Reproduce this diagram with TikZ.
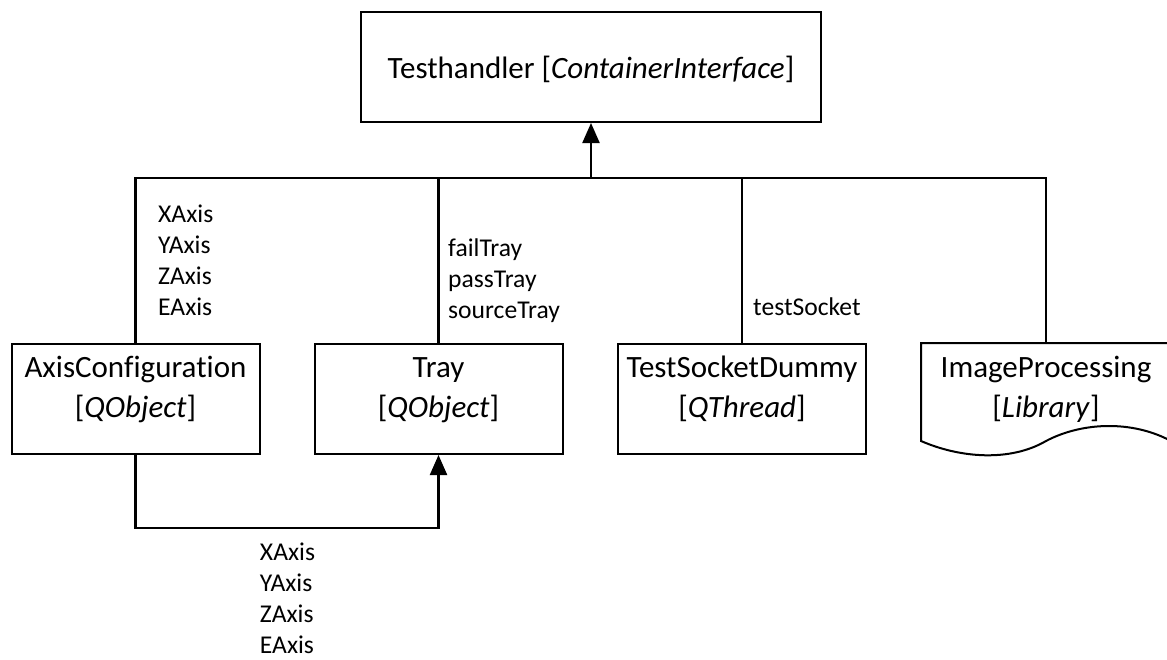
\documentclass[tikz,border=0pt]{standalone}
\usepackage{fontspec}
\setmainfont{Carlito}[Ligatures=NoCommon]
\usetikzlibrary{arrows.meta}

\begin{document}
\begin{tikzpicture}[x=1pt, y=-1pt,
  outline/.style={line width=2pt},
  box/.style={outline, draw, inner sep=0pt, minimum width=248pt, minimum height=110pt,
    align=center, font=\fontsize{31}{40}\selectfont, text height=73pt, text depth=37pt},
  docbox/.style={box, draw=none},
  topbox/.style={box, minimum width=460pt, text height=66pt, text depth=44pt},
  conn/.style={line width=2.2pt},
  inherit/.style={conn, -{Triangle[length=20pt, width=17pt]}},
  lbl/.style={inner sep=0pt, align=left, font=\fontsize{25.6}{31}\selectfont}
]
  % page frame
  \useasboundingbox (0,0) rectangle (1167,659);
  \fill[white] (0,0) rectangle (1167,659);
  \clip (0,0) rectangle (1167,659);

  % classes
  \node[topbox] (th)   at (591,67)    {Testhandler [\textit{ContainerInterface}]};
  \node[box]    (ac)   at (135.5,399) {AxisConfiguration\\{}[\textit{QObject}]};
  \node[box]    (tray) at (438.5,399) {Tray\\{}[\textit{QObject}]};
  \node[box]    (tsd)  at (742,399)   {TestSocketDummy\\{}[\textit{QThread}]};
  \node[docbox] (ip)   at (1046,399)  {ImageProcessing\\{}[\textit{Library}]};

  % library outline with wavy bottom edge
  \draw[outline] ([yshift=14pt]ip.south west) -- (ip.north west) -- (ip.north east)
    -- ([yshift=14pt]ip.south east)
    .. controls (1132,420) and (1082,422) .. (1046,441)
    .. controls (1010,462) and (960,458) .. ([yshift=14pt]ip.south west) -- cycle;

  % ownership bus into the handler
  \coordinate (bus) at (591,178);
  \draw[conn] (ac.north)   |- (bus);
  \draw[conn] (tray.north) |- (bus);
  \draw[conn] (tsd.north)  |- (bus);
  \draw[conn] (ip.north)   |- (bus);
  \draw[inherit] (bus) -- (th.south);

  % axis configuration handed to the tray
  \coordinate (low) at (287,528);
  \draw[inherit] (ac.south) |- (low) -| (tray.south);

  % member labels (anchored on the baseline of the last line)
  \node[lbl, anchor=base west] (axmembers)   at (158,315) {XAxis\\YAxis\\ZAxis\\EAxis};
  \node[lbl, anchor=base west] (traymembers) at (448,318) {failTray\\passTray\\sourceTray};
  \node[lbl, anchor=base west] (sockmember)  at (753,315) {testSocket};
  \node[lbl, anchor=base]      (axpassed)    at (287.5,653) {XAxis\\YAxis\\ZAxis\\EAxis};
\end{tikzpicture}
\end{document}
